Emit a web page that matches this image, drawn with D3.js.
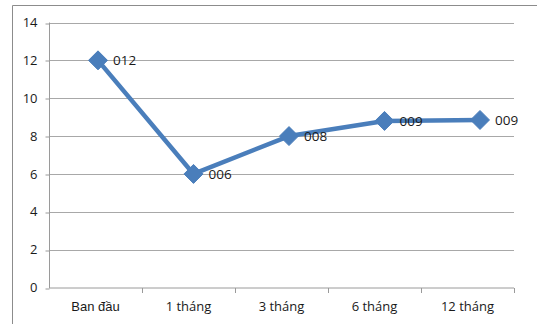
<!DOCTYPE html>
<html>
<head>
<meta charset="utf-8">
<script src="https://cdn.jsdelivr.net/npm/d3@7"></script>
<style>
  html, body { margin: 0; padding: 0; background: #fff; }
  svg { display: block; }
  text { font-family: "Open Sans", "Liberation Sans", Arial, sans-serif; fill: #1a1a1a; }
</style>
</head>
<body>
<svg id="chart" width="537" height="324"></svg>
<script>
// Follow-up time points and measured values
const categories = ["Ban đầu", "1 tháng", "3 tháng", "6 tháng", "12 tháng"];
const values = [12, 6, 8, 8.8, 8.85];
const yTicks = [0, 2, 4, 6, 8, 10, 12, 14];

const svg = d3.select("#chart");
const W = 537, H = 324;

// chart frame
svg.append("path")
  .attr("d", `M12.5,${H} V5.5 H${W}`)
  .attr("fill", "none")
  .attr("stroke", "#8c8c8c")
  .attr("stroke-width", 1);

const plot = { left: 49, right: 514, top: 22.5, bottom: 287.5 };

const y = d3.scaleLinear().domain([0, 14]).range([plot.bottom, plot.top]);
const xBand = d3.scaleBand().domain(categories).range([plot.left, plot.right]);
const xPoint = d3.scalePoint().domain(categories).range([98, 480]);

// horizontal gridlines
svg.append("g")
  .selectAll("line")
  .data(yTicks.filter(d => d > 0))
  .join("line")
  .attr("x1", plot.left).attr("x2", plot.right)
  .attr("y1", d => Math.round(y(d)) + 0.5)
  .attr("y2", d => Math.round(y(d)) + 0.5)
  .attr("stroke", "#a8a8a8");

// y axis
const yAxis = svg.append("g")
  .attr("transform", `translate(${plot.left + 0.5},0)`)
  .call(d3.axisLeft(y).tickValues(yTicks).tickSize(4).tickPadding(8).tickFormat(d3.format("d")));
yAxis.select(".domain").attr("stroke", "#9a9a9a").attr("d", `M0,${plot.top} V${plot.bottom + 0.5}`);
yAxis.selectAll(".tick line").attr("stroke", "#9a9a9a")
  .attr("transform", d => `translate(0,${Math.round(y(d)) + 0.5 - y(d)})`);
yAxis.selectAll(".tick text")
  .attr("font-size", 13)
  .attr("fill", "#1a1a1a")
  .style("font-family", "'Open Sans', 'Liberation Sans', sans-serif");

// x axis with ticks between categories
const xAxis = svg.append("g")
  .attr("transform", `translate(0,${plot.bottom + 0.5})`);
xAxis.append("line")
  .attr("x1", plot.left).attr("x2", plot.right)
  .attr("stroke", "#9a9a9a");
xAxis.selectAll("line.tk")
  .data(categories)
  .join("line")
  .attr("class", "tk")
  .attr("x1", d => Math.round(xBand(d) + xBand.bandwidth()) + 0.5)
  .attr("x2", d => Math.round(xBand(d) + xBand.bandwidth()) + 0.5)
  .attr("y1", 0).attr("y2", 5)
  .attr("stroke", "#9a9a9a");
xAxis.selectAll("text")
  .data(categories)
  .join("text")
  .attr("x", d => xBand(d) + xBand.bandwidth() / 2)
  .attr("y", 23)
  .attr("text-anchor", "middle")
  .attr("font-size", 13)
  .style("font-family", (d, i) => i === 0 ? "'Liberation Sans', Arial, sans-serif" : "'Open Sans', sans-serif")
  .text(d => d);

// series line
const line = d3.line()
  .x((d, i) => xPoint(categories[i]))
  .y(d => y(d));

svg.append("path")
  .datum(values)
  .attr("d", line)
  .attr("fill", "none")
  .attr("stroke", "#4a7ebb")
  .attr("stroke-width", 4.5)
  .attr("stroke-linejoin", "round");

// diamond markers
const diamond = d3.symbol().type(d3.symbolDiamond2).size(230);
svg.append("g")
  .selectAll("path")
  .data(values)
  .join("path")
  .attr("d", diamond)
  .attr("transform", (d, i) => `translate(${xPoint(categories[i])},${y(d)})`)
  .attr("fill", "#4a7ebb")
  .attr("stroke", "#4a7ebb")
  .attr("stroke-width", 1);

// value labels
const fmt = d3.format("03.0f");
svg.append("g")
  .selectAll("text")
  .data(values)
  .join("text")
  .attr("x", (d, i) => xPoint(categories[i]) + 15)
  .attr("y", d => y(d) + 5)
  .attr("font-size", 13.5)
  .text(d => fmt(d));
</script>
</body>
</html>
